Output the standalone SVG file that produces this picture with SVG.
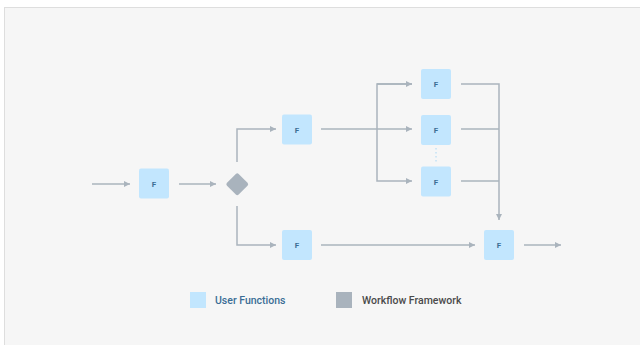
<svg xmlns="http://www.w3.org/2000/svg" width="640" height="345" viewBox="0 0 640 345">
  <style>
    .panel { fill: #f6f6f6; stroke: #dedede; stroke-width: 1; }
    .fn rect { fill: #c2e6fe; }
    .fn text { font-family: Roboto, "Liberation Sans", sans-serif; font-size: 8px; font-weight: bold; fill: #3c6e93; text-anchor: middle; }
    .wire { fill: none; stroke: #aab4bd; stroke-width: 1.5; }
    .dots { fill: none; stroke: #b6dcf5; stroke-width: 1.2; stroke-dasharray: 1.5 2.5; }
    .legend { font-family: Roboto, "Liberation Sans", sans-serif; font-size: 10.5px; font-weight: 500; }
  </style>
  <defs>
    <marker id="arrow" viewBox="0 0 6 6" refX="6" refY="3" markerWidth="6" markerHeight="6" markerUnits="userSpaceOnUse" orient="auto">
      <path d="M0,0 L6,3 L0,6 Z" fill="#aab4bd"/>
    </marker>
  </defs>

  <rect class="panel" x="4.5" y="7.5" width="640" height="340"/>

  <!-- connectors -->
  <g id="connectors">
    <path class="wire" d="M92,184 H130" marker-end="url(#arrow)"/>
    <path class="wire" d="M179,184 H216" marker-end="url(#arrow)"/>
    <path class="wire" d="M237,162 V129 H276" marker-end="url(#arrow)"/>
    <path class="wire" d="M237,206 V245 H276" marker-end="url(#arrow)"/>
    <path class="wire" d="M321,129 H412" marker-end="url(#arrow)"/>
    <path class="wire" d="M412,84 H377 V181 H412" marker-end="url(#arrow)"/>
    <path class="wire" d="M377,84 H412" marker-end="url(#arrow)"/>
    <path class="wire" d="M461,84 H499 V220" marker-end="url(#arrow)"/>
    <path class="wire" d="M461,129 H499"/>
    <path class="wire" d="M461,181 H499"/>
    <path class="wire" d="M321,245 H475" marker-end="url(#arrow)"/>
    <path class="wire" d="M524,245 H561" marker-end="url(#arrow)"/>
    <path class="dots" d="M436,148 V164"/>
  </g>

  <!-- nodes -->
  <g id="f-entry" class="fn">
    <rect x="139" y="168.5" width="30" height="30" rx="2"/>
    <text x="154" y="186.5">F</text>
  </g>
  <g id="switch">
    <rect x="229" y="176" width="16.5" height="16.5" rx="2" fill="#a9b3bd" transform="rotate(45 237.25 184.25)"/>
  </g>
  <g id="f-upper" class="fn">
    <rect x="282" y="114.5" width="30" height="30" rx="2"/>
    <text x="297" y="132.5">F</text>
  </g>
  <g id="f-lower" class="fn">
    <rect x="282" y="230" width="30" height="30" rx="2"/>
    <text x="297" y="248">F</text>
  </g>
  <g id="f-branch-1" class="fn">
    <rect x="421" y="69" width="30" height="30" rx="2"/>
    <text x="436" y="87">F</text>
  </g>
  <g id="f-branch-2" class="fn">
    <rect x="421" y="115" width="30" height="30" rx="2"/>
    <text x="436" y="133">F</text>
  </g>
  <g id="f-branch-n" class="fn">
    <rect x="421" y="166.5" width="30" height="30" rx="2"/>
    <text x="436" y="184.5">F</text>
  </g>
  <g id="f-join" class="fn">
    <rect x="484" y="230" width="30" height="30" rx="2"/>
    <text x="499" y="248">F</text>
  </g>

  <!-- legend -->
  <g id="legend">
    <rect x="190" y="292" width="16" height="16" fill="#c2e6fe"/>
    <text class="legend" x="215" y="303.5" fill="#3a6d95">User Functions</text>
    <rect x="336" y="292" width="16" height="16" fill="#a9b3bd"/>
    <text class="legend" x="362" y="303.5" fill="#4a4a4a">Workflow Framework</text>
  </g>
</svg>
